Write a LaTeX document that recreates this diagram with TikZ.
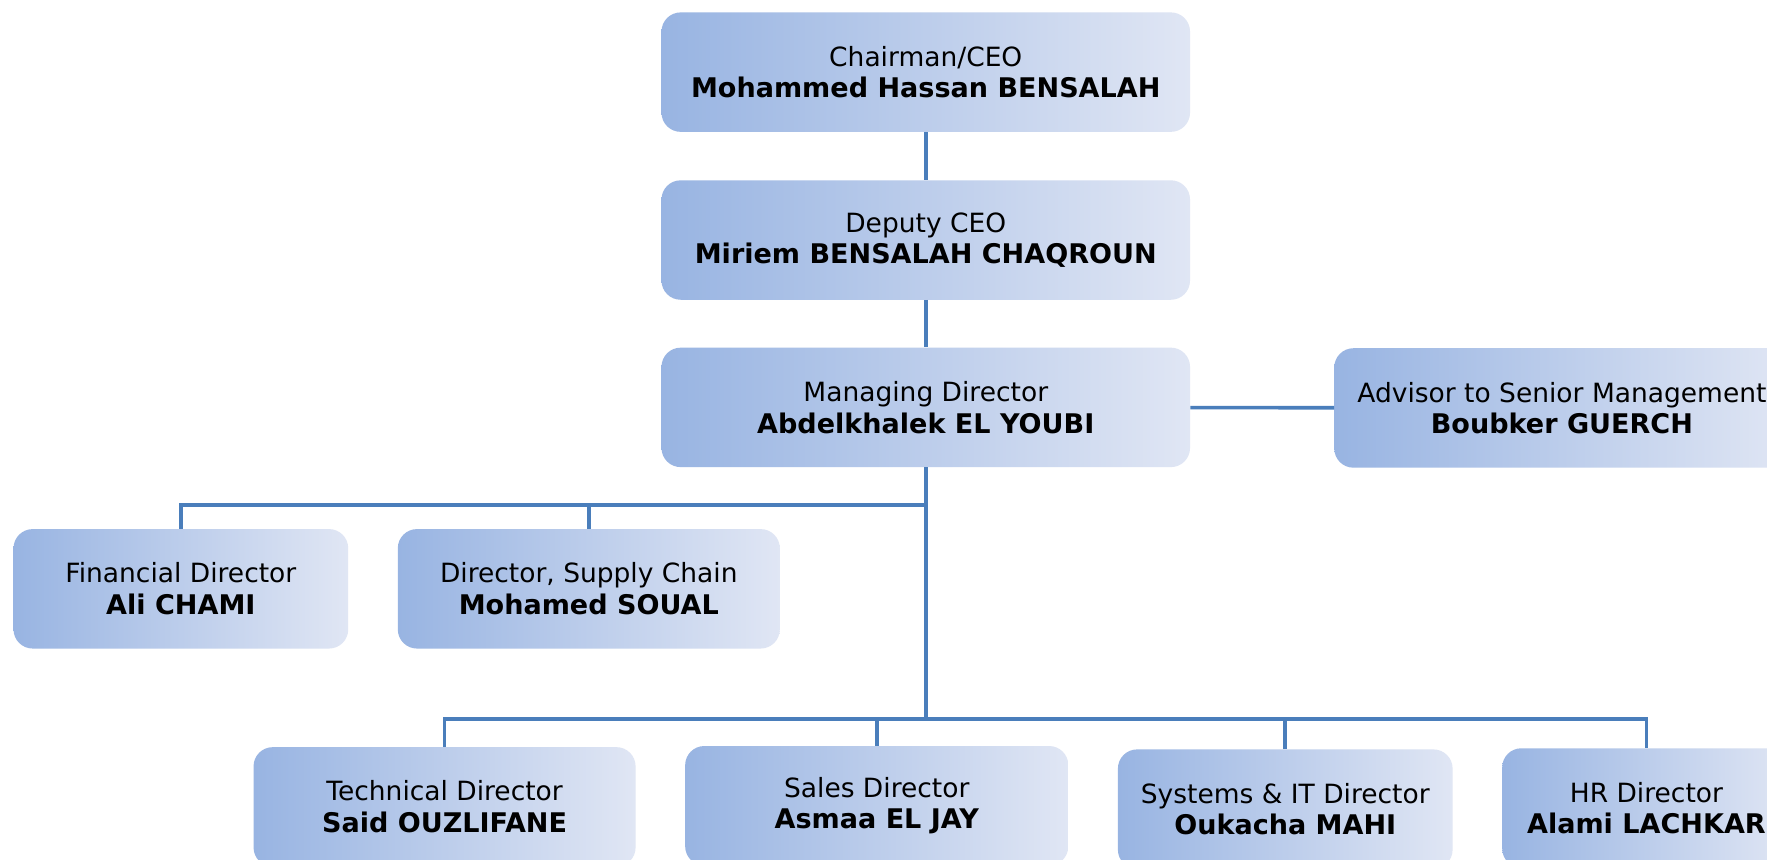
\documentclass[tikz,border=0pt]{standalone}
\usepackage{fontspec}
\setmainfont{DejaVu Sans}
\definecolor{boxL}{RGB}{152,180,226}
\definecolor{boxR}{RGB}{224,230,244}
\definecolor{lineblue}{RGB}{74,126,187}
\newcommand{\rolefont}{\fontsize{23.5}{28}\selectfont}
\newcommand{\namefont}{\fontsize{24}{28}\selectfont\bfseries}
\tikzset{
  orgbox/.style={rounded corners=17pt, left color=boxL, right color=boxR,
    minimum height=106pt, align=center, inner sep=0pt, text=black,
    font=\rolefont},
  conn/.style={draw=lineblue, line width=3.2pt},
}
\begin{document}
\begin{tikzpicture}[x=1pt,y=-1pt]
\useasboundingbox (0,0) rectangle (1568,763);
\clip (0,0) rectangle (1568,763);
\fill[white] (0,0) rectangle (1568,763);
% nodes
\node[orgbox, minimum width=469pt] (ceo) at (821.5,64) {Chairman/CEO\\{\namefont Mohammed Hassan BENSALAH}};
\node[orgbox, minimum width=469pt] (dep) at (821.5,213) {Deputy CEO\\{\namefont Miriem BENSALAH CHAQROUN}};
\node[orgbox, minimum width=469pt] (md) at (821.5,361.5) {Managing Director\\{\namefont Abdelkhalek EL YOUBI}};
\node[orgbox, minimum width=404pt] (adv) at (1386,362) {Advisor to Senior Management\\{\namefont Boubker GUERCH}};
\node[orgbox, minimum width=297pt] (fin) at (160.5,522.5) {Financial Director\\{\namefont Ali CHAMI}};
\node[orgbox, minimum width=339pt] (sup) at (522.5,522.5) {Director, Supply Chain\\{\namefont Mohamed SOUAL}};
\node[orgbox, minimum width=339pt] (tech) at (394.5,716) {Technical Director\\{\namefont Said OUZLIFANE}};
\node[orgbox, minimum width=340pt] (sales) at (778,715) {Sales Director\\{\namefont Asmaa EL JAY}};
\node[orgbox, minimum width=297pt] (sys) at (1140.5,718) {Systems \& IT Director\\{\namefont Oukacha MAHI}};
\node[orgbox, minimum width=256pt] (hr) at (1461,717) {HR Director\\{\namefont Alami LACHKAR}};
% junctions
\coordinate (b1) at (821.5,448);
\coordinate (b2) at (821.5,638);
% connectors
\draw[conn] (ceo) -- (dep);
\draw[conn] (dep) -- (md);
\draw[conn] (md) -- (adv);
\draw[conn] (md.south) -- (b2);
\draw[conn] (fin.north) |- (b1);
\draw[conn] (sup.north) -- (sup.north |- b1);
\draw[conn] (tech.north) |- (b2) -| (hr.north);
\draw[conn] (sales.north) -- (sales.north |- b2);
\draw[conn] (sys.north) -- (sys.north |- b2);
\end{tikzpicture}
\end{document}
